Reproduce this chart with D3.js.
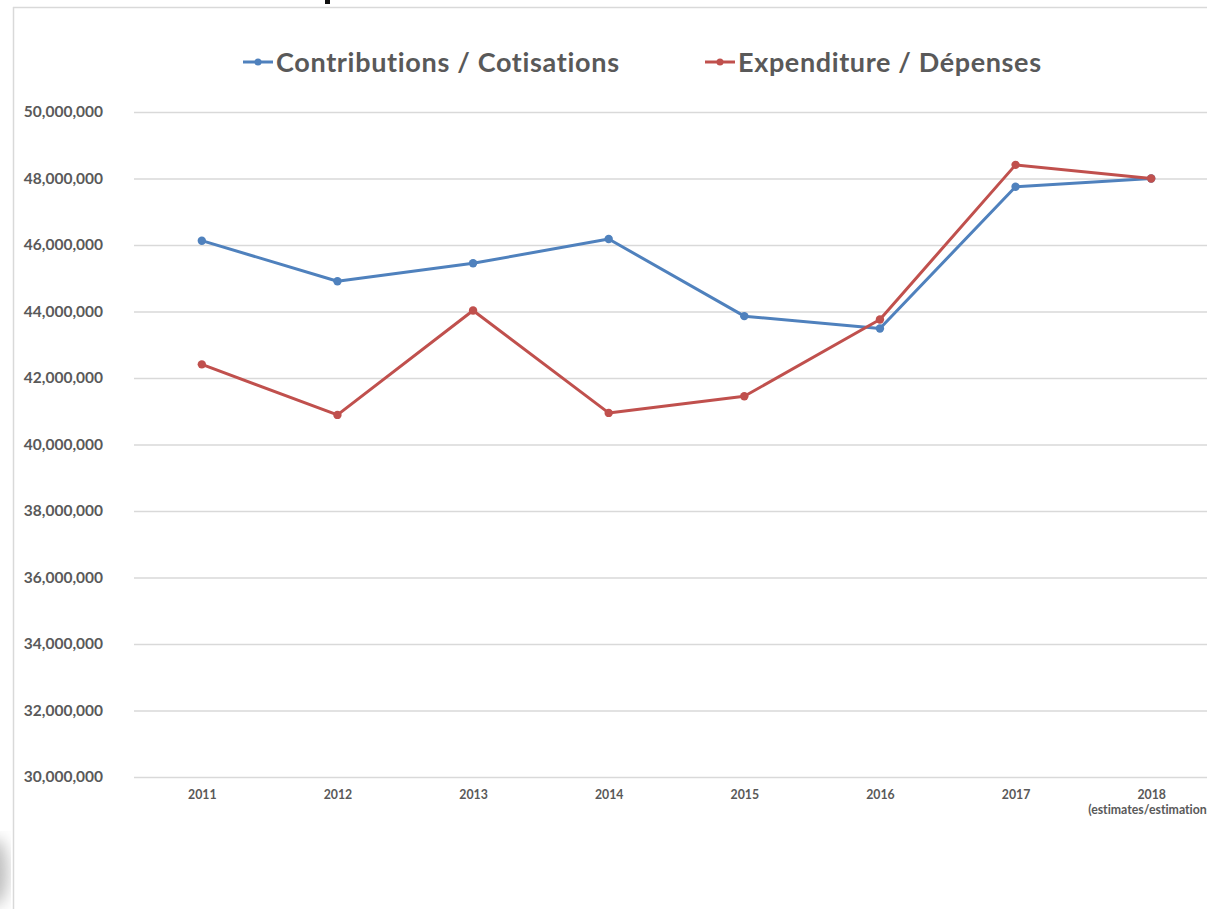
<!DOCTYPE html>
<html>
<head>
<meta charset="utf-8">
<script src="https://cdn.jsdelivr.net/npm/d3@7"></script>
<style>
    body { margin: 0; background: #fff; overflow: hidden; }
    text { font-family: Lato, "Open Sans", sans-serif; font-weight: bold; fill: #595959; font-variant-ligatures: none; }
</style>
</head>
<body>
<div id="plot"></div>
<script>
// chart data
var years = ["2011", "2012", "2013", "2014", "2015", "2016", "2017", "2018"];
var yearNotes = ["", "", "", "", "", "", "", "(estimates/estimations)"];
var contributions = [46130000, 44910000, 45450000, 46180000, 43860000, 43490000, 47750000, 48000000];
var expenditure = [42410000, 40890000, 44030000, 40950000, 41450000, 43760000, 48410000, 48000000];
var seriesNames = ["Contributions / Cotisations", "Expenditure / Dépenses"];
var seriesColors = ["#4f81bd", "#c0504d"];
var yTicks = [30000000, 32000000, 34000000, 36000000, 38000000, 40000000, 42000000, 44000000, 46000000, 48000000, 50000000];

var W = 1207, H = 909;

var svg = d3.select("#plot")
    .append("svg")
    .attr("width", W)
    .attr("height", H);

// faint shadow bottom-left, as in the screenshot
var defs = svg.append("defs");
defs.append("filter").attr("id", "blur")
    .append("feGaussianBlur").attr("stdDeviation", 8);
svg.append("ellipse")
    .attr("cx", -6).attr("cy", 872).attr("rx", 14).attr("ry", 34)
    .attr("fill", "#bdbdbd").attr("filter", "url(#blur)");

// frame of the chart area
svg.append("line")
    .attr("x1", 13).attr("x2", W).attr("y1", 7.5).attr("y2", 7.5)
    .style("stroke", "#d9d9d9").style("stroke-width", 1.5);
svg.append("line")
    .attr("x1", 13.5).attr("x2", 13.5).attr("y1", 7).attr("y2", H)
    .style("stroke", "#d9d9d9").style("stroke-width", 1.5);
// bit of the cut-off title above
svg.append("rect")
    .attr("x", 325).attr("y", 0).attr("width", 5).attr("height", 4)
    .attr("fill", "#111");

// scales
var x = d3.scalePoint()
    .domain(years)
    .range([134, 1219])
    .padding(0.5);

var y = d3.scaleLinear()
    .domain([30000000, 50000000])
    .range([777, 112]);

// gridlines
svg.append("g")
    .attr("transform", "translate(134,0)")
    .call(d3.axisLeft(y).tickValues(yTicks).tickSize(-(1219 - 134)).tickFormat(""))
    .call(function(g) {
        g.select(".domain").remove();
        g.selectAll(".tick line").style("stroke", "#d9d9d9").style("stroke-width", 1.3);
    });

// y axis labels
svg.append("g")
    .attr("transform", "translate(134,0)")
    .call(d3.axisLeft(y).tickValues(yTicks).tickSize(0).tickPadding(31).tickFormat(d3.format(",")))
    .call(function(g) {
        g.select(".domain").remove();
        g.selectAll(".tick text")
            .style("font-family", "Lato, sans-serif")
            .style("font-weight", "bold")
            .style("font-size", "15.5px")
            .style("fill", "#595959");
    });

// x axis labels
var xAxis = svg.append("g")
    .attr("transform", "translate(0,777)")
    .call(d3.axisBottom(x).tickSize(0).tickPadding(13))
    .call(function(g) {
        g.select(".domain").remove();
        g.selectAll(".tick text")
            .style("font-family", "Lato, sans-serif")
            .style("font-weight", "bold")
            .style("font-size", "12.3px")
            .style("fill", "#595959");
    });
xAxis.selectAll(".tick").each(function(d, i) {
    if (yearNotes[i]) {
        d3.select(this).select("text")
            .append("tspan")
            .attr("x", 0)
            .attr("dy", "1.25em")
            .text(yearNotes[i]);
    }
});

// lines + markers
var line = d3.line()
    .x(function(d, i) { return x(years[i]); })
    .y(function(d) { return y(d); });

[contributions, expenditure].forEach(function(values, s) {
    svg.append("path")
        .datum(values)
        .attr("d", line)
        .attr("fill", "none")
        .style("stroke", seriesColors[s])
        .style("stroke-width", 3)
        .style("stroke-linejoin", "round");
    svg.append("g")
        .selectAll("circle")
        .data(values)
        .enter()
        .append("circle")
        .attr("cx", function(d, i) { return x(years[i]); })
        .attr("cy", function(d) { return y(d); })
        .attr("r", 4.2)
        .style("fill", seriesColors[s]);
});

// legend
var legendX = [243, 705];
var legendW = [343, 303];
seriesNames.forEach(function(name, s) {
    var lg = svg.append("g").attr("transform", "translate(" + legendX[s] + ",62)");
    lg.append("line")
        .attr("x1", 0).attr("x2", 30).attr("y1", 0).attr("y2", 0)
        .style("stroke", seriesColors[s]).style("stroke-width", 3);
    lg.append("circle")
        .attr("cx", 15).attr("cy", 0).attr("r", 3.5)
        .style("fill", seriesColors[s]);
    lg.append("text")
        .attr("x", 33)
        .attr("y", 9.5)
        .style("font-size", "27px")
        .attr("textLength", legendW[s])
        .attr("lengthAdjust", "spacing")
        .text(name);
});
</script>
</body>
</html>
